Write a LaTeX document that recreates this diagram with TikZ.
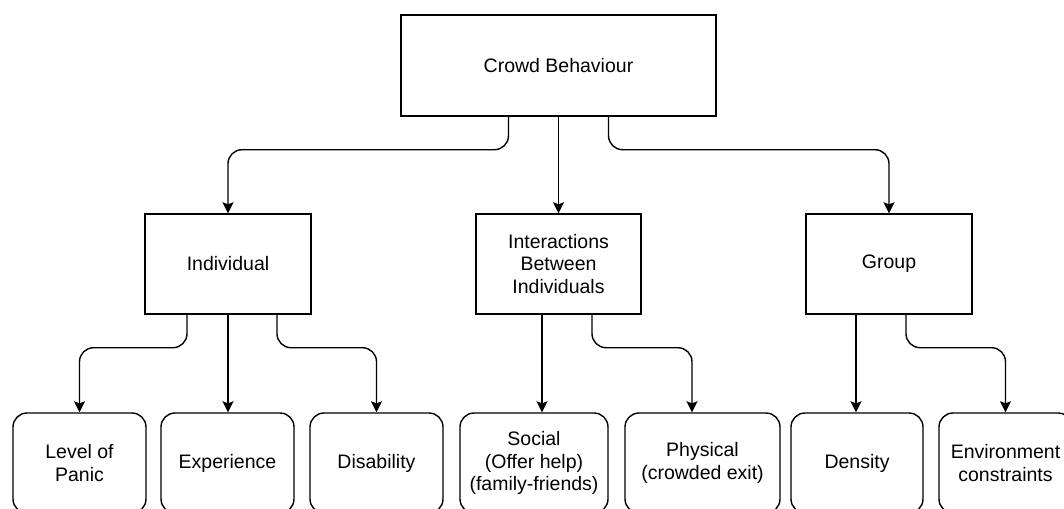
\documentclass[tikz,border=0pt]{standalone}
\usepackage{fontspec}
\setmainfont{Liberation Sans}
\usetikzlibrary{arrows.meta}

\begin{document}
\begin{tikzpicture}[
    x=1pt, y=-1pt,
    every node/.style={font=\fontsize{19.5}{22.5}\selectfont},
    plainbox/.style={rectangle, draw, line width=1.4pt, inner sep=0pt, minimum height=100pt, align=center},
    leafbox/.style={rectangle, draw, rounded corners=14pt, line width=1.4pt, inner sep=0pt, minimum height=100pt, align=center},
    arrow/.style={-{Stealth[length=11pt,width=11pt,inset=2pt]}, line width=1.4pt, rounded corners=14pt},
]
\useasboundingbox (0,0) rectangle (1064,508);
\clip (0,0) rectangle (1064,508);
% top level
\node[plainbox, minimum width=315pt, minimum height=101pt] (crowd) at (558.5,65.5) {Crowd Behaviour};
% second level
\node[plainbox, minimum width=166pt] (indiv) at (228,264) {Individual};
\node[plainbox, minimum width=165pt] (inter) at (558.5,264) {Interactions\\Between\\Individuals};
\node[plainbox, minimum width=166pt] (group) at (889,264) {Group};
% leaves
\node[leafbox, minimum width=133pt] (panic) at (79.5,463) {Level of\\Panic};
\node[leafbox, minimum width=133pt] (exper) at (227.5,463) {Experience};
\node[leafbox, minimum width=133pt] (disab) at (376.5,463) {Disability};
\node[leafbox, minimum width=148pt] (social) at (534,463) {Social\\(Offer help)\\(family-friends)};
\node[leafbox, minimum width=155pt] (phys) at (702.5,463) {Physical\\(crowded exit)};
\node[leafbox, minimum width=132pt] (dens) at (857,463) {Density};
\node[leafbox, minimum width=133pt] (env) at (1005.5,463) {Environment\\constraints};
% connectors
\draw[arrow] ([xshift=-50pt]crowd.south) -- ++(0,33) -| (indiv.north);
\draw[arrow] (crowd.south) -- (inter.north);
\draw[arrow] ([xshift=50pt]crowd.south) -- ++(0,33) -| (group.north);
\draw[arrow] ([xshift=-41pt]indiv.south) -- ++(0,33) -| (panic.north);
\draw[arrow] (indiv.south) -- (indiv.south |- exper.north);
\draw[arrow] ([xshift=49pt]indiv.south) -- ++(0,33) -| (disab.north);
\draw[arrow] ([xshift=-16.5pt]inter.south) -- ([xshift=-16.5pt]inter.south |- social.north);
\draw[arrow] ([xshift=33.5pt]inter.south) -- ++(0,33) -| ([xshift=-10.5pt]phys.north);
\draw[arrow] ([xshift=-33pt]group.south) -- ([xshift=-33pt]group.south |- dens.north);
\draw[arrow] ([xshift=17pt]group.south) -- ++(0,33) -| (env.north);
\end{tikzpicture}
\end{document}
